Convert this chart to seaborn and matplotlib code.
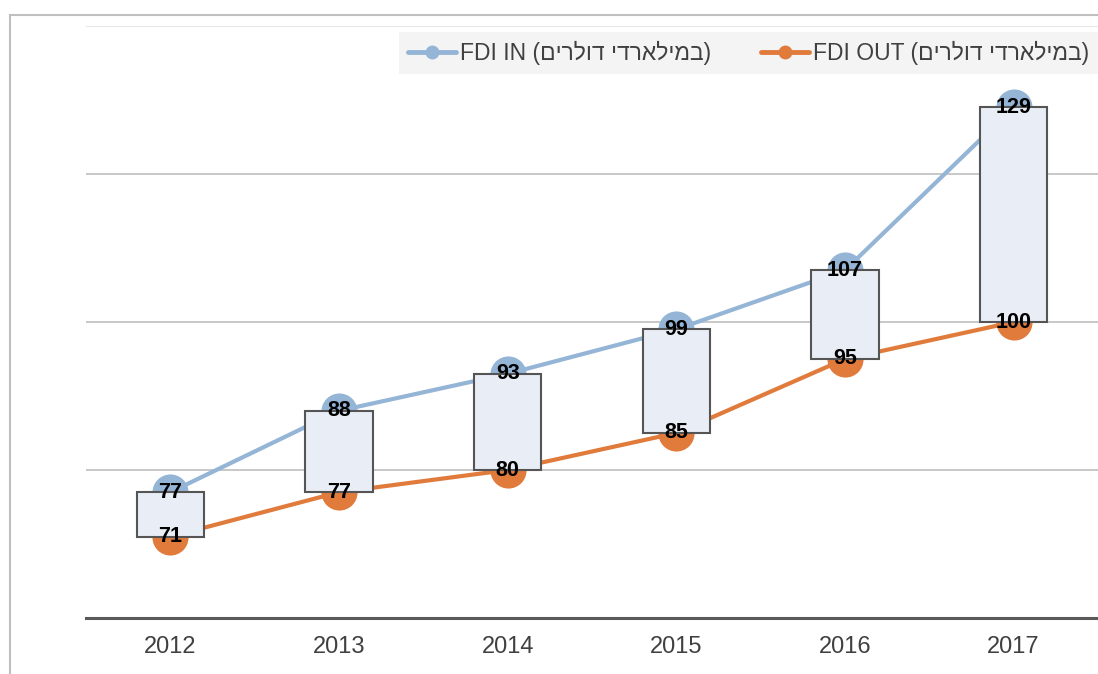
import numpy as np
import pandas as pd
import matplotlib
matplotlib.use("Agg")
import matplotlib.pyplot as plt
from matplotlib.lines import Line2D
from matplotlib.patches import Rectangle
import seaborn as sns

# ---------- data ----------
years = ["2012", "2013", "2014", "2015", "2016", "2017"]
fdi_in = [77, 88, 93, 99, 107, 129]
fdi_out = [71, 77, 80, 85, 95, 100]
unit_he = "במילארדי דולרים"
# matplotlib has no bidi support: put the Hebrew run in visual order
label_in = "FDI IN (" + unit_he[::-1] + ")"
label_out = "FDI OUT (" + unit_he[::-1] + ")"

c_in = "#95B5D6"
c_out = "#E07B3C"

sns.set_theme(style="white")
plt.rcParams["font.family"] = ["Liberation Sans", "DejaVu Sans"]

df = pd.DataFrame({"pos": np.arange(len(years)), "in": fdi_in, "out": fdi_out})

fig = plt.figure(figsize=(10.98, 6.74), dpi=100)
ax = fig.add_axes([86 / 1098, 56 / 674, 1 - 86 / 1098, (648 - 56) / 674])

# gridlines
for v in [80, 100, 120]:
    ax.axhline(v, color="#BFBFBF", lw=1.2, zorder=0)
ax.axhline(140, color="#E3E3E3", lw=1.2, zorder=0)

# lines with markers
sns.lineplot(data=df, x="pos", y="in", color=c_in, lw=3, marker="o", markersize=26,
             markeredgewidth=0, ax=ax, zorder=2)
sns.lineplot(data=df, x="pos", y="out", color=c_out, lw=3, marker="o", markersize=26,
             markeredgewidth=0, ax=ax, zorder=2)

# up-down bars
ax.bar(df["pos"], df["in"] - df["out"], bottom=df["out"], width=0.4,
       color="#E9EEF6", edgecolor="#555555", linewidth=1.5, zorder=3)

# data labels
for i in range(len(years)):
    ax.text(i, fdi_in[i], str(fdi_in[i]), ha="center", va="center",
            fontsize=15.5, fontweight="bold", color="black", zorder=5)
    ax.text(i, fdi_out[i], str(fdi_out[i]), ha="center", va="center",
            fontsize=15.5, fontweight="bold", color="black", zorder=5)

ax.set_xlim(-0.5, len(years) - 0.5)
ax.set_ylim(60, 140)
ax.set_xticks(range(len(years)))
ax.set_xticklabels(years, fontsize=17, color="#404040")
ax.set_yticks([])
ax.tick_params(axis="x", length=0, pad=13)
ax.set_xlabel("")
ax.set_ylabel("")
for s in ["top", "right", "left"]:
    ax.spines[s].set_visible(False)
ax.spines["bottom"].set_color("#595959")
ax.spines["bottom"].set_linewidth(2.2)
ax.patch.set_alpha(0)

# legend
handles = [
    Line2D([0], [0], color=c_in, lw=3.5, marker="o", markersize=10, markeredgewidth=0),
    Line2D([0], [0], color=c_out, lw=3.5, marker="o", markersize=10, markeredgewidth=0),
]
leg = ax.legend(handles, [label_in, label_out], loc="upper right",
                bbox_to_anchor=(1.0, 0.99), ncol=2, fontsize=16.5,
                frameon=True, fancybox=False, handlelength=2.1,
                handletextpad=0.15, columnspacing=2.2, borderaxespad=0,
                borderpad=0.4)
leg.get_frame().set_facecolor("#F2F2F2")
leg.get_frame().set_edgecolor("none")
for t in leg.get_texts():
    t.set_color("#404040")

# outer chart border
fig.add_artist(Rectangle((10 / 1098, -0.1), 1.2, (674 - 15) / 674 + 0.1,
                         transform=fig.transFigure, fill=False,
                         edgecolor="#BFBFBF", lw=1.5))

fig.savefig("out.png", dpi=100)
